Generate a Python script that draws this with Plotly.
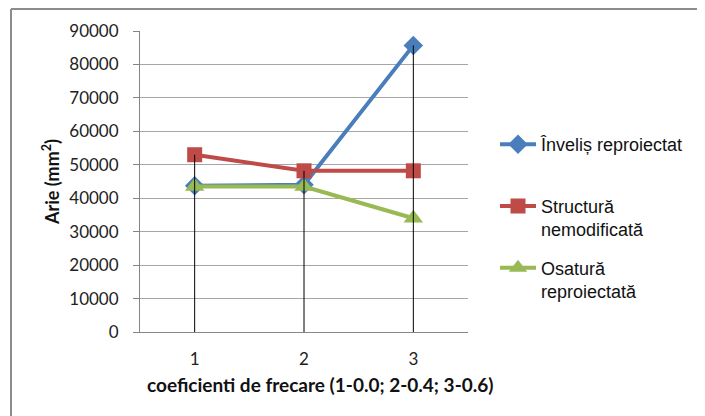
import plotly.graph_objects as go

categories = [1, 2, 3]
tick_labels = ["1", "2", "3"]
invelis = [43700, 44000, 85700]
structura = [53000, 48200, 48200]
osatura = [43500, 43500, 34000]
y_ticks = [0, 10000, 20000, 30000, 40000, 50000, 60000, 70000, 80000, 90000]

names = ["Înveliș reproiectat<br> ", "Structură<br>nemodificată", "Osatură<br>reproiectată"]
colors = ["#4A7EBB", "#BE4B48", "#98B954"]
symbols = ["diamond", "square", "triangle-up"]
sizes = [15, 15, 17]
series = [invelis, structura, osatura]

fig = go.Figure()
for i, (vals, name) in enumerate(zip(series, names)):
    fig.add_trace(go.Scatter(
        x=categories, y=vals, name=name, mode="lines+markers",
        line=dict(color=colors[i], width=4),
        marker=dict(symbol=symbols[i], size=sizes[i], color=colors[i]),
        legendgroup=str(i),
    ))

# drop lines from highest value down to axis
dx, dy = [], []
for j, c in enumerate(categories):
    top = max(s[j] for s in series)
    dx += [c, c, None]
    dy += [top, 0, None]
fig.add_trace(go.Scatter(x=dx, y=dy, mode="lines", line=dict(color="black", width=1),
                         showlegend=False, hoverinfo="skip"))

# page has an 8px body margin, so the figure is drawn at (8, 8)
OFF = 8
W, H = 705 - OFF, 416 - OFF
L, T = 140 - OFF, 31 - OFF
R = W - (468 - OFF)
B = H - (332 - OFF)
pw, ph = W - L - R, H - T - B


def px(x):
    return (x - OFF - L) / pw


def py(y):
    return 1 - (y - OFF - T) / ph


fig.update_layout(
    width=W, height=H,
    margin=dict(l=L, r=R, t=T, b=B, autoexpand=False),
    paper_bgcolor="white", plot_bgcolor="white",
    font=dict(family="Lato", size=17, color="#222"),
    legend=dict(
        x=px(495), xanchor="left",
        y=py(126), yanchor="top",
        font=dict(family="Liberation Sans", size=18, color="#111"),
        traceorder="grouped", tracegroupgap=12,
        valign="top", itemwidth=36,
        bgcolor="rgba(0,0,0,0)",
    ),
    xaxis=dict(
        range=[0.5, 3.5], tickvals=categories, ticktext=tick_labels,
        showgrid=False, zeroline=False, showline=True, linecolor="#868686", linewidth=1,
        ticks="", ticklabelstandoff=12, fixedrange=True, automargin=False,
    ),
    yaxis=dict(
        range=[0, 90000], tickvals=y_ticks, ticktext=[str(v) for v in y_ticks],
        showgrid=True, gridcolor="#A6A6A6", gridwidth=1, zeroline=False,
        showline=True, linecolor="#868686", linewidth=1, automargin=False,
        ticks="outside", ticklen=6, tickcolor="#868686", ticklabelstandoff=11,
    ),
    annotations=[
        dict(text="<b>Arie (mm<sup>2</sup>)</b>", xref="paper", yref="paper",
             x=px(51), y=py(182), textangle=-90, showarrow=False,
             font=dict(family="Lato", size=18, color="#111"), xanchor="center", yanchor="middle"),
        dict(text="<b>coeficienti de frecare (1-0.0; 2-0.4; 3-0.6)</b>", xref="paper", yref="paper",
             x=px(320), y=py(384), showarrow=False,
             font=dict(family="Lato", size=19, color="#111"), xanchor="center", yanchor="middle"),
    ],
    shapes=[
        dict(type="line", xref="paper", yref="paper",
             x0=px(11), x1=px(11), y0=py(430), y1=py(9),
             line=dict(color="#8C8C8C", width=2)),
        dict(type="line", xref="paper", yref="paper",
             x0=px(11), x1=px(720), y0=py(9), y1=py(9),
             line=dict(color="#8C8C8C", width=2)),
    ],
    showlegend=True,
)

fig.write_html("out.html")
